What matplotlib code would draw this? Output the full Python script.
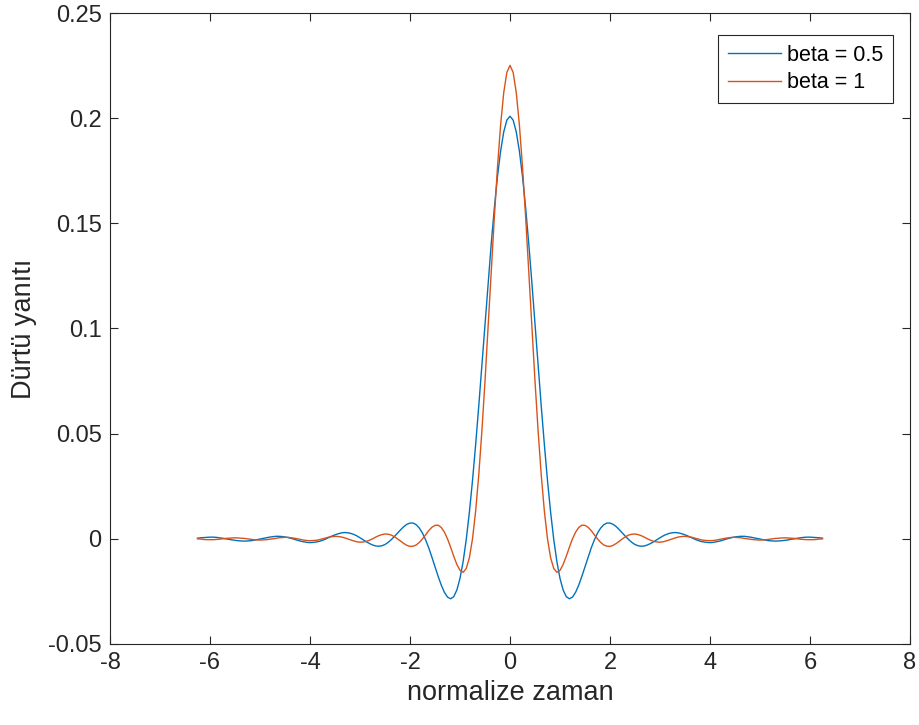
import numpy as np
import matplotlib
matplotlib.use('Agg')
import matplotlib.pyplot as plt

plt.rcParams['font.family'] = ['Liberation Sans', 'DejaVu Sans']
plt.rcParams['axes.unicode_minus'] = False

# impulse response for t >= 0 (normalized time, step 1/16); the response is even in t
t_half = np.arange(0, 101) / 16.0

y_beta05_half = [0.2009, 0.1991, 0.1935, 0.1844, 0.1723, 0.1574, 0.1404, 0.1218, 0.1023, 0.0825,
                 0.0631, 0.0447, 0.0277, 0.0126, -0.0003, -0.0108, -0.0188, -0.0243, -0.0275, -0.0285,
                 -0.0277, -0.0254, -0.0220, -0.0178, -0.0133, -0.0087, -0.0043, -0.0005, 0.0027, 0.0051,
                 0.0067, 0.0075, 0.0075, 0.0069, 0.0058, 0.0043, 0.0027, 0.0011, -0.0004, -0.0017,
                 -0.0027, -0.0033, -0.0035, -0.0034, -0.0029, -0.0022, -0.0014, -0.0004, 0.0005, 0.0014,
                 0.0021, 0.0026, 0.0029, 0.0030, 0.0028, 0.0024, 0.0019, 0.0013, 0.0006, -0.0001,
                 -0.0007, -0.0012, -0.0015, -0.0017, -0.0018, -0.0017, -0.0014, -0.0011, -0.0007, -0.0002,
                 0.0002, 0.0006, 0.0009, 0.0011, 0.0012, 0.0012, 0.0010, 0.0008, 0.0005, 0.0002,
                 -0.0001, -0.0004, -0.0007, -0.0009, -0.0010, -0.0011, -0.0010, -0.0009, -0.0007, -0.0005,
                 -0.0002, 0.0000, 0.0003, 0.0005, 0.0007, 0.0008, 0.0008, 0.0007, 0.0006, 0.0005,
                 0.0003]

y_beta1_half = [0.2251, 0.2218, 0.2122, 0.1969, 0.1768, 0.1531, 0.1273, 0.1008, 0.0750, 0.0512,
                0.0303, 0.0131, 0.0000, -0.0090, -0.0141, -0.0159, -0.0150, -0.0122, -0.0083, -0.0040,
                0.0000, 0.0032, 0.0054, 0.0065, 0.0064, 0.0055, 0.0039, 0.0019, 0.0000, -0.0017,
                -0.0029, -0.0035, -0.0036, -0.0031, -0.0022, -0.0011, 0.0000, 0.0010, 0.0018, 0.0022,
                0.0023, 0.0020, 0.0015, 0.0008, 0.0000, -0.0007, -0.0012, -0.0015, -0.0016, -0.0014,
                -0.0010, -0.0005, 0.0000, 0.0005, 0.0009, 0.0011, 0.0012, 0.0010, 0.0008, 0.0004,
                0.0000, -0.0004, -0.0007, -0.0008, -0.0009, -0.0008, -0.0006, -0.0003, 0.0000, 0.0003,
                0.0005, 0.0007, 0.0007, 0.0006, 0.0005, 0.0002, 0.0000, -0.0002, -0.0004, -0.0005,
                -0.0006, -0.0005, -0.0004, -0.0002, 0.0000, 0.0002, 0.0003, 0.0004, 0.0005, 0.0004,
                0.0003, 0.0002, 0.0000, -0.0002, -0.0003, -0.0004, -0.0004, -0.0004, -0.0003, -0.0001,
                0.0000]

labels = ['beta = 0.5', 'beta = 1']
xticks = [-8, -6, -4, -2, 0, 2, 4, 6, 8]
yticks = [-0.05, 0, 0.05, 0.1, 0.15, 0.2, 0.25]
yticklabels = ['-0.05', '0', '0.05', '0.1', '0.15', '0.2', '0.25']

# mirror to negative time
t = np.concatenate([-t_half[:0:-1], t_half])
y_beta05 = y_beta05_half[:0:-1] + y_beta05_half
y_beta1 = y_beta1_half[:0:-1] + y_beta1_half

fig = plt.figure(figsize=(9.19, 7.25), dpi=100)
ax = fig.add_axes([110/919, 81/725, 800/919, 631/725])
ax.plot(t, y_beta05, color='#0072BD', lw=1.0, label=labels[0])
ax.plot(t, y_beta1, color='#D95319', lw=1.0, label=labels[1])

ax.set_xlim(-8, 8)
ax.set_ylim(-0.05, 0.25)
ax.set_xticks(xticks)
ax.set_xticklabels([str(v) for v in xticks])
ax.set_yticks(yticks)
ax.set_yticklabels(yticklabels)

dark = '#262626'
for s in ax.spines.values():
    s.set_color(dark)
    s.set_linewidth(0.8)
ax.tick_params(direction='in', length=6, width=0.8, top=True, right=True,
               labelsize=17, colors=dark, pad=6)
ax.set_xlabel('normalize zaman', fontsize=19.5, color=dark, labelpad=4)
ax.set_ylabel('Dürtü yanıtı', fontsize=19.5, color=dark, labelpad=8)

leg = ax.legend(loc='upper right', bbox_to_anchor=(893/919, 690/725), bbox_transform=fig.transFigure,
                fontsize=15.5, fancybox=False, framealpha=1, edgecolor=dark,
                handlelength=2.45, handletextpad=0.3, borderpad=0.45, labelspacing=0.3,
                borderaxespad=0)
leg.get_frame().set_linewidth(0.8)
for txt in leg.get_texts():
    txt.set_color('black')

fig.savefig('out.png', dpi=100)
